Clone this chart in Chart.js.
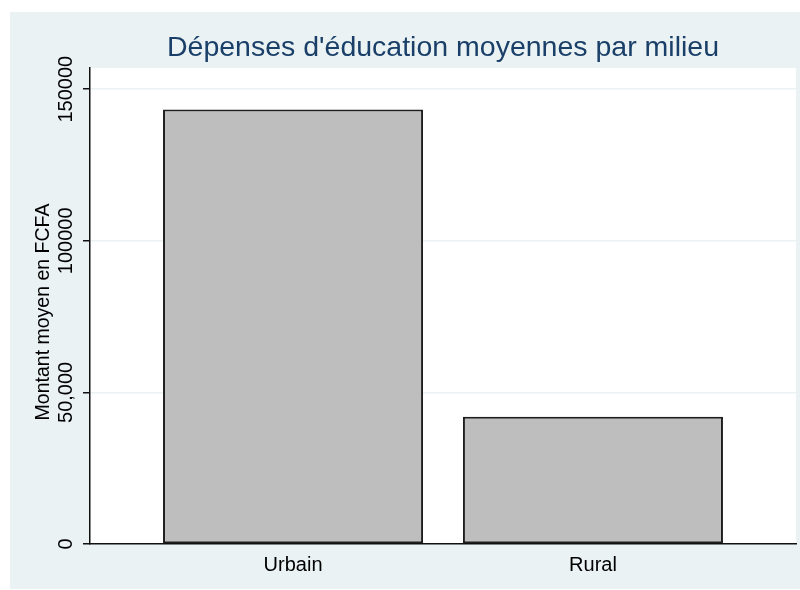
<!DOCTYPE html>
<html>
<head>
<meta charset="utf-8">
<script src="https://cdn.jsdelivr.net/npm/chart.js@4.4.1/dist/chart.umd.min.js"></script>
<style>
  html, body { margin: 0; padding: 0; background: #ffffff; }
</style>
</head>
<body>
<canvas id="myChart" width="800" height="590"></canvas>
<script>
var categories = ["Urbain", "Rural"]; // milieux
var montants = [143300, 42000]; // dépense moyenne en FCFA
var yTicks = [0, 50000, 100000, 150000];
var yTickLabels = ["0", "50,000", "100000", "150000"];
var titre = "Dépenses d'éducation moyennes par milieu";
var titreAxeY = "Montant moyen en FCFA";

var police = "'Liberation Sans', Arial, sans-serif";

// Fond, titre et étiquettes verticales façon Stata
var decorStata = {
  id: "decorStata",
  beforeDraw: function (chart) {
    let ctx = chart.ctx;
    let area = chart.chartArea;
    ctx.save();
    ctx.fillStyle = "#ffffff";
    ctx.fillRect(0, 0, chart.width, chart.height);
    ctx.fillStyle = "#eaf2f3";
    ctx.fillRect(10, 12, chart.width - 10, chart.height - 13);
    ctx.fillStyle = "#ffffff";
    ctx.fillRect(area.left, area.top, area.right - area.left, area.bottom - area.top);
    ctx.restore();
  },
  afterDraw: function (chart) {
    let ctx = chart.ctx;
    let area = chart.chartArea;
    let yScale = chart.scales.y;
    ctx.save();
    // titre
    ctx.fillStyle = "#1a3f69";
    ctx.font = "28.5px " + police;
    ctx.textAlign = "center";
    ctx.textBaseline = "middle";
    ctx.fillText(titre, (area.left + area.right) / 2, 48);
    // étiquettes de l'axe Y (tournées)
    ctx.fillStyle = "#000000";
    ctx.font = "20px " + police;
    yTicks.forEach((v, i) => {
      let py = yScale.getPixelForValue(v);
      ctx.save();
      ctx.translate(area.left - 24, py);
      ctx.rotate(-Math.PI / 2);
      ctx.fillText(yTickLabels[i], 0, 0);
      ctx.restore();
    });
    // titre de l'axe Y
    ctx.font = "19.5px " + police;
    ctx.translate(area.left - 46, (area.top + area.bottom) / 2 + 6);
    ctx.rotate(-Math.PI / 2);
    ctx.fillText(titreAxeY, 0, 0);
    ctx.restore();
  },
};

let ctx = document.getElementById("myChart").getContext("2d");
let chartInstance = new Chart(ctx, {
  type: "bar",
  data: {
    datasets: [
      {
        label: titreAxeY,
        data: categories.map((c, i) => ({ x: i, y: montants[i] })),
        backgroundColor: "#bebebe",
        borderColor: "#1e1e1e",
        borderWidth: 2,
        borderSkipped: false,
        categoryPercentage: 1,
        barPercentage: 0.867,
      },
    ],
  },
  options: {
    responsive: false,
    animation: false,
    devicePixelRatio: 1,
    layout: { padding: { left: 10, top: 68, right: 4, bottom: 0 } },
    plugins: {
      legend: { display: false },
      title: { display: false },
      tooltip: { enabled: false },
    },
    scales: {
      x: {
        type: "linear",
        offset: false,
        bounds: "data",
        min: -0.677,
        max: 1.677,
        afterBuildTicks: (scale) => {
          scale.ticks = categories.map((c, i) => ({ value: i }));
        },
        afterFit: (scale) => {
          scale.height = 46;
        },
        grid: { display: false, drawTicks: false, offset: false },
        border: { display: true, color: "#111111", width: 1.5 },
        ticks: {
          color: "#000000",
          font: { family: police, size: 20 },
          padding: 9,
          maxRotation: 0,
          callback: (v) => categories[v],
        },
      },
      y: {
        min: 0,
        max: 157000,
        afterBuildTicks: (scale) => {
          scale.ticks = yTicks.map((v) => ({ value: v }));
        },
        afterFit: (scale) => {
          scale.width = 80;
        },
        grid: {
          color: "#eaf2f3",
          lineWidth: 1.5,
          tickLength: 7,
          tickColor: "#111111",
        },
        border: { display: true, color: "#111111", width: 1.5 },
        ticks: { display: false },
      },
    },
  },
  plugins: [decorStata],
});
</script>
</body>
</html>
